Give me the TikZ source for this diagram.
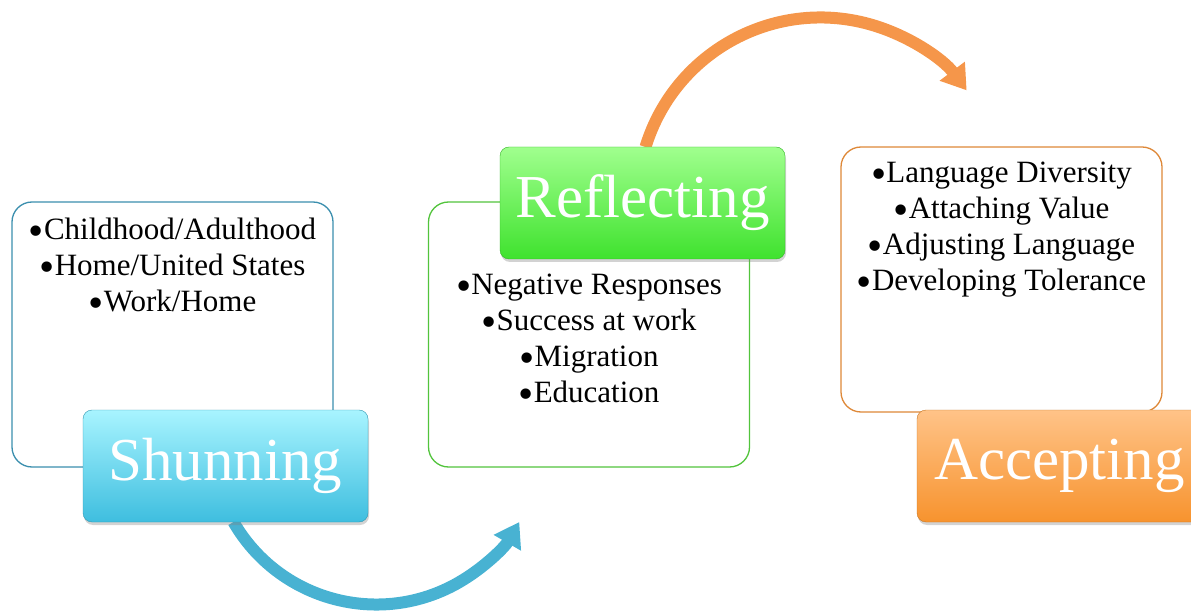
\documentclass[tikz,border=0pt]{standalone}
\usepackage{fontspec}
\setmainfont{Liberation Serif}
\usetikzlibrary{arrows.meta,shadows}

\definecolor{shunedge}{HTML}{3B8FAE}
\definecolor{shuntop}{HTML}{A8F4FF}
\definecolor{shunbot}{HTML}{3EBEDF}
\definecolor{refledge}{HTML}{52C43C}
\definecolor{refltop}{HTML}{A0FF8E}
\definecolor{reflbot}{HTML}{3FE22E}
\definecolor{accedge}{HTML}{DE8838}
\definecolor{acctop}{HTML}{FFC388}
\definecolor{accbot}{HTML}{F7932E}
\definecolor{arrblue}{HTML}{48B2D2}
\definecolor{arrorange}{HTML}{F5964A}

\newcommand\bul{\smash{\raisebox{-6pt}{\scalebox{1.4}{•}}}}

\tikzset{
  panel/.style={draw=#1, line width=1.3pt, fill=white, rounded corners=20pt,
    minimum width=321pt, minimum height=265pt},
  stagelbl/.style 2 args={rounded corners=9pt, top color=#1, bottom color=#2,
    draw=#2!80!black, line width=0.4pt, minimum width=285pt, minimum height=112pt,
    text=white, inner sep=0pt, font=\fontsize{61}{61}\selectfont,
    drop shadow={opacity=0.35, shadow xshift=1pt, shadow yshift=-3pt}},
  items/.style={align=center, inner sep=0pt, font=\fontsize{31}{36}\selectfont},
  bendarrow/.style={draw=#1, line width=12pt, -{Triangle[width=30pt,length=24pt]}}
}

\begin{document}
\begin{tikzpicture}[x=1pt, y=1pt, line join=round]
\clip (0,0) rectangle (1191,611);
% panels
\node[panel=shunedge] (shunbox) at (172.5,276.5) {};
\node[panel=refledge] (reflbox) at (589,276.5) {};
\node[panel=accedge]  (accbox)  at (1001.5,331.5) {};
% connectors
\coordinate (shunfoot) at (233.5,89);
\coordinate (reflhead) at (645.5,464);
\draw[bendarrow=arrblue] (shunfoot) arc[start angle=210, end angle=330, radius=165];
\draw[bendarrow=arrorange] (reflhead) arc[start angle=163, end angle=37, radius=183];
% stage labels
\node[stagelbl={shuntop}{shunbot}] (shunlbl) at (225.5,145) {\raisebox{-4pt}{Shunning}};
\node[stagelbl={refltop}{reflbot}] (refllbl) at (642.5,408) {\raisebox{-4pt}{Reflecting}};
\node[stagelbl={acctop}{accbot}]   (acclbl)  at (1059.5,145) {\raisebox{-4pt}{Accepting}};
% items
\node[items, anchor=north] (shuntxt) at ([yshift=-16pt]shunbox.north)
  {\bul Childhood/Adulthood\\\bul Home/United States\\\bul Work/Home};
\node[items, anchor=north] (refltxt) at ([yshift=-15pt]refllbl.south -| reflbox.center)
  {\bul Negative Responses\\\bul Success at work\\\bul Migration\\\bul Education};
\node[items, anchor=north] (acctxt) at ([yshift=-15pt]accbox.north)
  {\bul Language Diversity\\\bul Attaching Value\\\bul Adjusting Language\\\bul Developing Tolerance};
\end{tikzpicture}
\end{document}
